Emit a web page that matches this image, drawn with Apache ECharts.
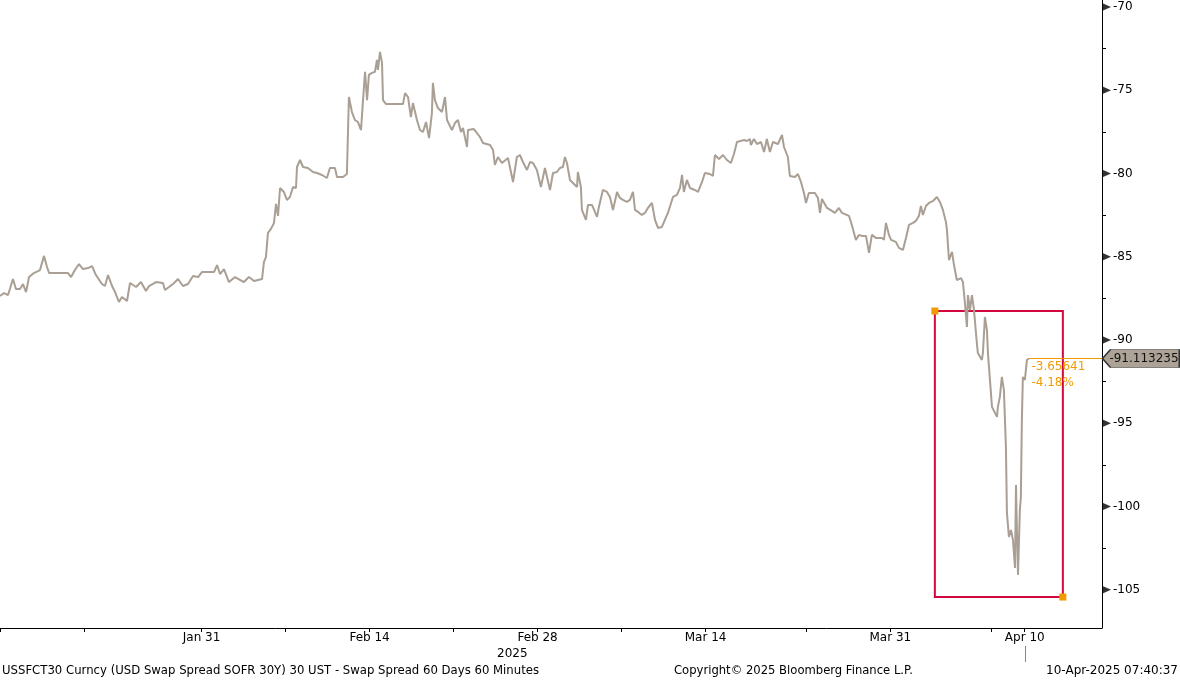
<!DOCTYPE html>
<html><head><meta charset="utf-8">
<script src="https://cdn.jsdelivr.net/npm/echarts@6/dist/echarts.min.js"></script>
<style>html,body{margin:0;padding:0;background:#fff}#c{width:1180px;height:680px}</style>
</head><body><div id="c"></div>
<script>
// trading-day offsets from the first bar (weekends compressed, as on the Bloomberg axis)
const tradingDays = [
0,0.24,0.48,0.77,0.95,1.19,1.37,1.55,1.73,2.02,2.38,2.62,2.80,2.92,4.05,4.23,4.46,4.70,4.94,5.24,
5.48,5.71,6.07,6.25,6.43,6.67,6.85,7.08,7.26,7.56,7.74,8.10,8.39,8.69,8.87,9.29,9.70,9.82,10.30,10.60,
10.89,11.19,11.49,11.79,12.02,12.74,12.92,13.10,13.33,13.63,13.99,14.52,14.82,15.12,15.60,15.71,15.83,15.95,16.13,16.31,
16.43,16.55,16.67,16.90,17.08,17.26,17.44,17.62,17.68,17.86,18.04,18.33,18.63,18.87,19.17,19.46,19.64,19.94,20.06,20.42,
20.65,20.77,20.95,21.13,21.31,21.49,21.61,21.73,21.85,21.96,22.14,22.32,22.44,22.50,22.62,22.74,22.80,22.98,23.99,24.11,
24.29,24.46,24.58,24.82,25.00,25.18,25.36,25.54,25.71,25.77,25.89,26.07,26.31,26.49,26.61,26.90,27.08,27.26,27.44,27.56,
27.80,27.86,28.21,28.57,28.75,29.17,29.35,29.46,29.64,29.88,30.24,30.54,30.77,30.95,31.13,31.37,31.55,31.73,31.96,32.20,
32.44,32.74,32.92,33.15,33.33,33.51,33.63,33.75,33.93,34.11,34.35,34.40,34.58,34.64,34.88,35.00,35.24,35.54,35.65,35.89,
36.13,36.31,36.49,36.73,36.90,37.08,37.32,37.50,37.68,37.80,37.98,38.21,38.39,38.57,38.81,38.99,39.17,39.40,39.58,39.76,
40.06,40.30,40.48,40.60,40.71,40.89,41.07,41.37,41.55,41.79,41.96,42.26,42.44,42.56,42.80,43.04,43.27,43.51,43.69,43.87,
44.29,44.46,44.64,44.70,44.88,45.06,45.30,45.48,45.65,45.83,46.01,46.31,46.55,46.67,46.90,47.02,47.32,47.50,47.68,47.86,
47.98,48.15,48.51,48.69,48.81,48.93,49.23,49.52,49.70,49.94,50.12,50.54,50.71,50.95,51.13,51.31,51.55,51.73,51.90,52.14,
52.50,52.62,52.74,52.92,53.04,53.33,53.51,53.75,53.93,54.11,54.35,54.52,54.70,54.82,54.94,55.12,55.30,55.54,55.77,55.95,
56.13,56.31,56.37,56.49,56.67,56.79,56.96,57.20,57.32,57.44,57.56,57.62,57.74,57.86,57.98,58.15,58.21,58.45,58.51,58.63,
58.75,58.81,58.93,59.05,59.23,59.35,59.40,59.52,59.64,59.76,59.88,59.94,60.06,60.18,60.30,60.42,60.48,60.54,60.60,60.71,
60.77,60.83,60.89,61.01,61.13,61.25
];
// USD swap spread SOFR 30Y (bp)
const spread = [
-87.36,-87.18,-87.30,-86.34,-86.94,-86.94,-86.64,-87.12,-86.22,-85.98,-85.80,-84.95,-85.62,-85.98,-85.98,-86.22,-85.80,-85.44,-85.74,-85.68,
-85.56,-86.10,-86.64,-86.76,-86.10,-86.76,-87.12,-87.72,-87.42,-87.66,-86.58,-86.82,-86.52,-87.06,-86.76,-86.52,-86.58,-87.00,-86.64,-86.34,
-86.76,-86.64,-86.16,-86.22,-85.92,-85.92,-85.50,-86.04,-85.74,-86.52,-86.22,-86.52,-86.22,-86.46,-86.34,-85.32,-85.02,-83.57,-83.33,-82.97,
-81.83,-82.55,-80.87,-81.11,-81.59,-81.41,-80.81,-80.87,-79.61,-79.19,-79.61,-79.67,-79.91,-79.97,-80.09,-80.27,-79.67,-79.67,-80.21,-80.21,
-80.03,-75.41,-76.31,-76.79,-76.91,-77.39,-75.59,-73.90,-75.59,-74.08,-73.96,-73.90,-73.18,-73.78,-72.70,-73.36,-75.59,-75.83,-75.83,-75.17,
-75.41,-76.61,-75.77,-76.79,-77.39,-77.51,-76.91,-77.87,-76.37,-74.56,-75.59,-76.07,-76.31,-75.41,-76.79,-77.39,-76.97,-76.79,-77.51,-77.27,
-78.41,-77.39,-77.33,-77.81,-78.17,-78.29,-78.59,-79.49,-79.01,-79.37,-79.07,-80.51,-79.01,-78.89,-79.31,-79.79,-79.31,-79.37,-79.79,-80.81,
-79.67,-80.99,-79.97,-79.91,-79.67,-79.61,-79.01,-79.37,-80.39,-80.57,-80.81,-79.91,-80.81,-82.19,-82.79,-81.89,-81.89,-82.61,-82.01,-80.99,
-81.11,-81.41,-82.19,-81.11,-81.47,-81.59,-81.71,-81.59,-81.11,-82.19,-82.31,-82.49,-82.37,-82.07,-81.77,-82.79,-83.27,-83.21,-82.79,-82.37,
-81.41,-81.29,-80.87,-80.09,-81.11,-80.39,-80.87,-80.99,-81.11,-80.51,-79.97,-80.03,-80.15,-78.89,-79.13,-78.89,-79.19,-79.37,-78.83,-78.11,
-77.99,-78.05,-77.93,-78.29,-77.93,-78.23,-78.11,-78.71,-77.93,-78.71,-78.11,-78.23,-77.69,-78.41,-79.01,-80.15,-80.21,-80.03,-80.51,-81.17,
-81.77,-81.17,-81.17,-81.47,-82.37,-81.53,-82.07,-82.25,-82.37,-82.07,-82.37,-82.55,-83.09,-83.99,-83.69,-83.75,-83.75,-84.77,-83.69,-83.87,
-83.87,-83.99,-82.97,-83.69,-83.99,-84.11,-84.47,-84.59,-83.87,-83.09,-82.97,-82.85,-82.55,-81.95,-82.49,-81.95,-81.77,-81.65,-81.41,-81.71,
-82.19,-82.91,-83.39,-85.20,-84.71,-85.50,-86.40,-86.28,-86.52,-87.78,-89.22,-87.30,-88.20,-87.30,-88.20,-90.18,-90.78,-91.20,-90.78,-88.62,
-89.40,-90.78,-92.40,-94.02,-94.38,-94.62,-94.02,-93.42,-92.22,-93.00,-96.43,-100.39,-101.83,-101.41,-102.01,-103.69,-98.71,-101.59,-104.11,-100.21,
-99.43,-94.80,-92.22,-92.40,-91.20,-91.113235
];
const xRange = [0, 65.6];
const yRange = [-107.3, -69.58];
const xTickDays = [0,5,12,17,22,27,32,37,42,48,53,59,61];
const xLabelDays = [12,22,32,42,53,61];
const xLabelNames = ['Jan 31','Feb 14','Feb 28','Mar 14','Mar 31','Apr 10'];
const yLabelValues = [-105,-100,-95,-90,-85,-80,-75,-70];
const yMinorValues = [-102.5,-97.5,-92.5,-87.5,-82.5,-77.5,-72.5];
const measureStartValue = -87.456825;
const measureBoxDays = [55.65, 63.27];
const measureBoxValues = [-88.26, -105.44];
const yearLabel = '2025';
const footerLeft = 'USSFCT30 Curncy (USD Swap Spread SOFR 30Y) 30 UST - Swap Spread 60 Days 60 Minutes';
const footerMid = 'Copyright\u00A9 2025 Bloomberg Finance L.P.';
const footerRight = '10-Apr-2025 07:40:37';

const LINE = '#a99f94', ORANGE = '#f29b00', RED = '#d40840', FONT = 'DejaVu Sans';
const lastT = tradingDays[tradingDays.length-1];
const lastV = spread[spread.length-1];
const diff = lastV - measureStartValue;
const pct = diff / Math.abs(measureStartValue) * 100;

const chart = echarts.init(document.getElementById('c'), null, {renderer:'canvas'});
chart.setOption({
  animation:false,
  backgroundColor:'#fff',
  grid:{left:0, right:78, top:0, bottom:52},
  xAxis:{type:'value', min:xRange[0], max:xRange[1],
    splitLine:{show:false},
    axisLine:{show:true, onZero:false, lineStyle:{color:'#000', width:1}},
    axisTick:{show:true, length:4, lineStyle:{color:'#000'}, customValues:xTickDays},
    axisLabel:{show:true, color:'#000', fontFamily:FONT, fontSize:12, margin:4,
      customValues:xLabelDays,
      formatter:v=>{const i=xLabelDays.indexOf(Math.round(v)); return i>=0?xLabelNames[i]:'';}}
  },
  yAxis:{type:'value', position:'right', min:yRange[0], max:yRange[1],
    splitLine:{show:false},
    axisLine:{show:true, onZero:false, lineStyle:{color:'#000', width:1}},
    axisTick:{show:true, length:4, lineStyle:{color:'#000'}, customValues:yMinorValues},
    axisLabel:{show:true, color:'#000', fontFamily:FONT, fontSize:12, margin:11,
      customValues:yLabelValues, formatter:v=>String(Math.round(v))}
  },
  series:[
    {type:'line', data:tradingDays.map((t,i)=>[t,spread[i]]), showSymbol:false, symbol:'none',
     lineStyle:{color:LINE, width:2}, z:3,
     markArea:{silent:true, itemStyle:{color:'rgba(0,0,0,0)', borderColor:RED, borderWidth:2},
       label:{show:false},
       data:[[{coord:[measureBoxDays[0],measureBoxValues[0]]},{coord:[measureBoxDays[1],measureBoxValues[1]]}]]},
     markLine:{silent:true, symbol:['none','none'], label:{show:false},
       lineStyle:{color:ORANGE, width:1, type:'solid'},
       data:[[{coord:[lastT,lastV]},{coord:[xRange[1],lastV]}]]},
     markPoint:{silent:true, data:[
       {coord:[measureBoxDays[0],measureBoxValues[0]], symbol:'rect', symbolSize:7, itemStyle:{color:ORANGE}, label:{show:false}},
       {coord:[measureBoxDays[1],measureBoxValues[1]], symbol:'rect', symbolSize:7, itemStyle:{color:ORANGE}, label:{show:false}},
       {coord:[lastT,lastV], symbol:'rect', symbolSize:1, itemStyle:{color:'rgba(0,0,0,0)'},
        label:{show:true, position:[3,1], align:'left', verticalAlign:'top', color:ORANGE, fontFamily:FONT, fontSize:12, lineHeight:16,
          formatter:diff.toFixed(5)+'\n'+pct.toFixed(2)+'%'}},
       {coord:[xRange[1],lastV], symbol:'path://M0,9 L8,0 L77,0 L77,18 L8,18 Z', symbolSize:[77,18], symbolOffset:[39,0],
        itemStyle:{color:'#aca396', borderColor:'#333', borderWidth:1},
        label:{show:true, position:'inside', offset:[3,0], color:'#111', fontFamily:FONT, fontSize:12, formatter:lastV.toFixed(6)}}
     ]}
    },
    {type:'scatter', data:yLabelValues.map(v=>[xRange[1],v]), symbol:'path://M0,0 L10,5 L0,10 Z',
     symbolSize:[9,8], symbolOffset:[4.5,0], itemStyle:{color:'#000'}, silent:true, clip:false, z:5}
  ]
});
const aprX = chart.convertToPixel({xAxisIndex:0}, xLabelDays[xLabelDays.length-1]);
const yearX = chart.convertToPixel({xAxisIndex:0}, 30.5);
chart.setOption({graphic:[
  {type:'text', x:yearX, y:654, style:{text:yearLabel, textAlign:'center', textVerticalAlign:'middle', font:'12px "DejaVu Sans"', fill:'#000'}},
  {type:'line', shape:{x1:Math.round(aprX)+0.5, y1:646, x2:Math.round(aprX)+0.5, y2:662}, style:{stroke:'#888', lineWidth:1}},
  {type:'text', x:2, y:671, style:{text:footerLeft, textAlign:'left', textVerticalAlign:'middle', font:'11.7px "DejaVu Sans"', fill:'#000'}},
  {type:'text', x:674, y:671, style:{text:footerMid, textAlign:'left', textVerticalAlign:'middle', font:'11.6px "DejaVu Sans"', fill:'#000'}},
  {type:'text', x:1178, y:671, style:{text:footerRight, textAlign:'right', textVerticalAlign:'middle', font:'12px "DejaVu Sans"', fill:'#000'}}
]});
</script></body></html>
